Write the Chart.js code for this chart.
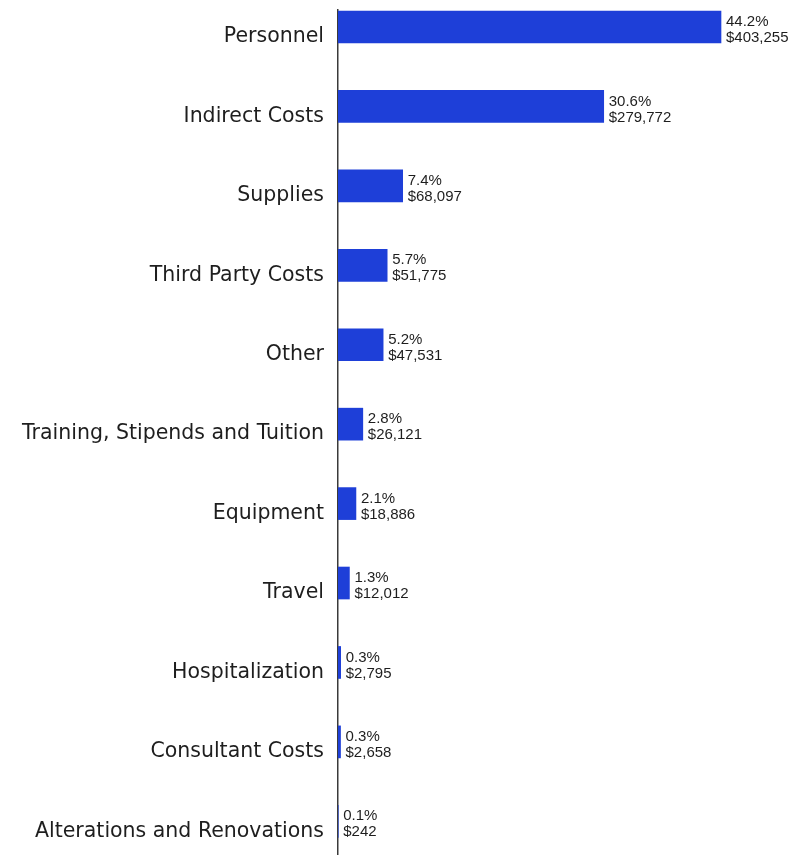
<!DOCTYPE html>
<html>
<head>
<meta charset="utf-8">
<script src="https://cdn.jsdelivr.net/npm/chart.js@4.4.1/dist/chart.umd.min.js"></script>
<style>
  html, body { margin: 0; padding: 0; background: #ffffff; }
  #wrap { position: relative; width: 804px; height: 855px; }
</style>
</head>
<body>
<div id="wrap"><canvas id="chart"></canvas></div>
<script>
// Expense categories, top to bottom
const categories = [
  'Personnel',
  'Indirect Costs',
  'Supplies',
  'Third Party Costs',
  'Other',
  'Training, Stipends and Tuition',
  'Equipment',
  'Travel',
  'Hospitalization',
  'Consultant Costs',
  'Alterations and Renovations'
];

// Dollar amounts per category
const amounts = [403255, 279772, 68097, 51775, 47531, 26121, 18886, 12012, 2795, 2658, 242];

// Share of the total, in percent
const percents = [44.2, 30.6, 7.4, 5.7, 5.2, 2.8, 2.1, 1.3, 0.3, 0.3, 0.1];

const percentLabels = percents.map(p => p.toFixed(1) + '%');
const amountLabels = amounts.map(a => '$' + a.toLocaleString('en-US'));

const BAR_BLUE = '#1e3fd8';
const TEXT_DARK = '#1e1e1e';

// Two-line value label to the right of each bar: percent over dollar amount
const valueLabels = {
  id: 'valueLabels',
  afterDatasetsDraw(chart) {
    const ctx = chart.ctx;
    const meta = chart.getDatasetMeta(0);
    ctx.save();
    ctx.font = '15px "Liberation Sans", Arial, sans-serif';
    ctx.fillStyle = TEXT_DARK;
    ctx.textAlign = 'left';
    ctx.textBaseline = 'middle';
    meta.data.forEach((bar, i) => {
      const x = bar.x + 5;
      ctx.fillText(percentLabels[i], x, bar.y - 5);
      ctx.fillText(amountLabels[i], x, bar.y + 11);
    });
    ctx.restore();
  }
};

new Chart(document.getElementById('chart'), {
  type: 'bar',
  data: {
    datasets: [{
      data: amounts.map((v, i) => ({ x: v, y: i })),
      backgroundColor: BAR_BLUE,
      borderWidth: 0,
      barThickness: 32
    }]
  },
  options: {
    indexAxis: 'y',
    responsive: true,
    maintainAspectRatio: false,
    animation: false,
    layout: { padding: { top: 10, right: 0, bottom: 0, left: 0 } },
    plugins: {
      legend: { display: false },
      tooltip: { enabled: false }
    },
    scales: {
      x: {
        type: 'linear',
        display: false,
        min: 0,
        max: 490650
      },
      y: {
        type: 'linear',
        reverse: true,
        offset: false,
        min: -0.214,
        max: 10.424,
        afterFit(scale) {
          scale.width = 338;
          scale.paddingTop = 0;
          scale.paddingBottom = 0;
        },
        grid: { display: false, drawTicks: false, offset: false },
        border: { display: true, color: '#3a3a3a', width: 1.5 },
        ticks: {
          stepSize: 1,
          includeBounds: false,
          autoSkip: false,
          padding: 14,
          labelOffset: 10,
          color: TEXT_DARK,
          font: { family: '"DejaVu Sans", sans-serif', size: 20.5 },
          callback: v => Number.isInteger(v) ? categories[v] : ''
        }
      }
    }
  },
  plugins: [valueLabels]
});
</script>
</body>
</html>
